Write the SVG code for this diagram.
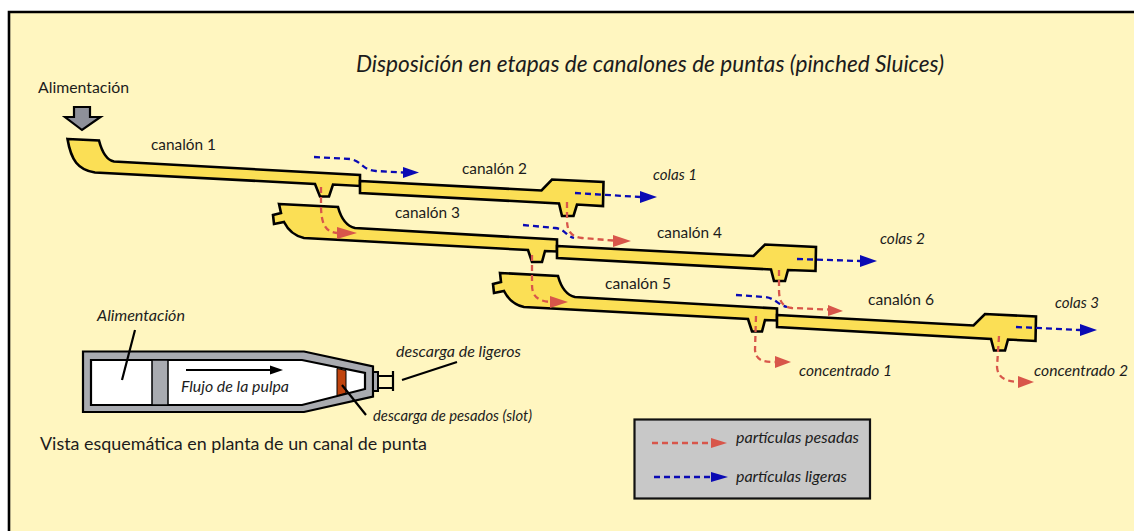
<svg xmlns="http://www.w3.org/2000/svg" width="1134" height="531" viewBox="0 0 1134 531">
<style>
text{font-family:Lato,"Noto Sans","Liberation Sans",sans-serif;fill:#1c1c1c;font-size:15px}
.i{font-style:italic}
.ch{fill:#fbdf55;stroke:#000;stroke-width:2.6;stroke-linejoin:miter}
.r{fill:none;stroke:#d8564a;stroke-width:2.3;stroke-dasharray:6 4}
.b{fill:none;stroke:#0a0ab4;stroke-width:2.3;stroke-dasharray:6 4}
.rh{fill:#d8564a}.bh{fill:#0a0ab4}
.l{fill:none;stroke:#000;stroke-width:2.2}
</style>
<rect width="1134" height="531" fill="#fff"/>
<rect x="9" y="12" width="1125" height="519" fill="#fff6c0"/>
<path d="M9 531V12H1134" fill="none" stroke="#000" stroke-width="2.6"/>
<text x="356" y="72" class="i" style="font-size:24px" textLength="588" lengthAdjust="spacingAndGlyphs">Disposición en etapas de canalones de puntas (pinched Sluices)</text>

<g id="alimentacion">
<text x="38" y="93" textLength="91" lengthAdjust="spacingAndGlyphs">Alimentación</text>
<path d="M74 107H90V117H100.500L82 130L65 117H74Z" fill="#8e9099" stroke="#000" stroke-width="2.200"/>
</g>
<g id="canalon1">
<path class="ch" d="M67.500 139L99 140.500C102 152 106 160 114 161.500L360 175V186L333 184.500L329 196.500H320L315 184L95 172.500C78 170 71 160 67.500 139Z"/>
<text x="151" y="150" textLength="65" lengthAdjust="spacingAndGlyphs">canalón 1</text>
</g>
<g id="canalon2">
<path class="ch" d="M360 181L541.500 190.500L552 179.500L603.500 182L603 206L577 204.500L573.500 216H562L559 203.500L360 193Z"/>
<text x="462" y="174" textLength="65" lengthAdjust="spacingAndGlyphs">canalón 2</text>
</g>
<g id="canalon3">
<path class="ch" d="M279 204L338 207C341 218 346 226 355 228L557 239.500V251.500L545 251L542 262H532L528 250L304 238C295 236 288 230 284 222L274 224L273 215L281 213Z"/>
<text x="395" y="218" textLength="65" lengthAdjust="spacingAndGlyphs">canalón 3</text>
</g>
<g id="canalon4">
<path class="ch" d="M557 246L753.500 256L765 244.500L816 247L815.500 271L788 270L785 281H774L771 269.500L557 258Z"/>
<text x="657" y="238" textLength="65" lengthAdjust="spacingAndGlyphs">canalón 4</text>
</g>
<g id="canalon5">
<path class="ch" d="M500 273L558 276C561 287 566 295 575 297L777 308.500V320.500L765 320L762 331.500H752L748 319L524 307C515 305 508 299 504 291L494 293L493 284L501 282Z"/>
<text x="605" y="289" textLength="66" lengthAdjust="spacingAndGlyphs">canalón 5</text>
</g>
<g id="canalon6">
<path class="ch" d="M777 315L973.500 325.500L985 314L1036 316.500L1035.500 341L1008 339.500L1005 350.500H994L991 339L777 327Z"/>
<text x="868" y="305" textLength="66" lengthAdjust="spacingAndGlyphs">canalón 6</text>
</g>

<g id="conectores">
<path class="r" d="M321 187V205C321 225 326 232 337 233"/><path class="rh" d="M337 227L357 233L337 239Z"/>
<path class="b" d="M314 157L350 159C362 161 362 170 376 171L403 172.500"/><path class="bh" d="M403 167L419 172.500L403 178Z"/>
<path class="b" d="M575 193L640 197"/><path class="bh" d="M640 191L657 197L640 203Z"/>
<path class="r" d="M567 202V220C567 232 572 237 582 238L613 240.500"/><path class="rh" d="M613 235L631 241L613 247Z"/>
<path class="b" d="M523 225L555 228C565 229 566 236 574 238"/>
<path class="r" d="M532 255V285C532 298 540 301 550 302"/><path class="rh" d="M550 296L568 302L550 308Z"/>
<path class="b" d="M797 259L860 261"/><path class="bh" d="M860 255L877 261L860 267Z"/>
<path class="r" d="M779 270V290C779 302 783 307 792 308L828 309.500"/><path class="rh" d="M828 305L843 311L828 316Z"/>
<path class="b" d="M736 295L765 297C775 298 778 305 787 307"/>
<path class="r" d="M756 316L755 350C756 360 762 362 775 362"/><path class="rh" d="M775 356L791 362L775 368Z"/>
<path class="b" d="M1016 327L1080 330"/><path class="bh" d="M1080 324L1097 330L1080 336Z"/>
<path class="r" d="M999 336L997 367C998 378 1005 381 1018 382"/><path class="rh" d="M1018 376L1034 382L1018 388Z"/>
</g>

<text x="653" y="180" class="i" textLength="44" lengthAdjust="spacingAndGlyphs">colas 1</text>
<text x="880" y="244" class="i" textLength="45" lengthAdjust="spacingAndGlyphs">colas 2</text>
<text x="1055" y="308" class="i" textLength="44" lengthAdjust="spacingAndGlyphs">colas 3</text>
<text x="799" y="376" class="i" textLength="93" lengthAdjust="spacingAndGlyphs">concentrado 1</text>
<text x="1034" y="376" class="i" textLength="94" lengthAdjust="spacingAndGlyphs">concentrado 2</text>

<g id="vista-esquematica">
<path d="M83 351.500H304L373 366.500V396.500L304 412H83Z" fill="#a9abb0" stroke="#000" stroke-width="2.200"/>
<path d="M91 360H302L365 373V389L302 405H91Z" fill="#fff" stroke="#000" stroke-width="2.200"/>
<rect x="152" y="360" width="16" height="45" fill="#a9abb0" stroke="#000" stroke-width="1.500"/>
<path d="M337 368.500L346 370.500V393L337 395.500Z" fill="#c1440e" stroke="#000" stroke-width="1"/>
<path d="M373 372H378V391H373Z" fill="#a9abb0" stroke="#000" stroke-width="2"/>
<path d="M378 376H393M378 388H393M393 371V391" class="l"/>
<path d="M135 330L122 380M457 362L402 380M342 385L366 415" class="l"/>
<path d="M186 370H270" class="l"/><path d="M270 365.500L283 370L270 374.500Z" fill="#000"/>
<text x="97" y="321" class="i" textLength="88" lengthAdjust="spacingAndGlyphs">Alimentación</text>
<text x="181" y="392" class="i" textLength="108" lengthAdjust="spacingAndGlyphs">Flujo de la pulpa</text>
<text x="396" y="357" class="i" textLength="125" lengthAdjust="spacingAndGlyphs">descarga de ligeros</text>
<text x="373" y="421" class="i" textLength="159" lengthAdjust="spacingAndGlyphs">descarga de pesados (slot)</text>
<text x="40" y="450" style="font-size:18px" textLength="387" lengthAdjust="spacingAndGlyphs">Vista esquemática en planta de un canal de punta</text>
</g>

<g id="leyenda">
<rect x="634.500" y="419.500" width="235.500" height="79" fill="#c8c8c8" stroke="#111" stroke-width="2.200"/>
<path d="M652 443H711" class="r"/><path class="rh" d="M711 438L727 443L711 448Z"/>
<path d="M654 477H711" class="b"/><path class="bh" d="M711 472L728 477L711 482Z"/>
<text x="736" y="443" class="i" textLength="123" lengthAdjust="spacingAndGlyphs">partículas pesadas</text>
<text x="736" y="482" class="i" textLength="111" lengthAdjust="spacingAndGlyphs">partículas ligeras</text>
</g>
</svg>
